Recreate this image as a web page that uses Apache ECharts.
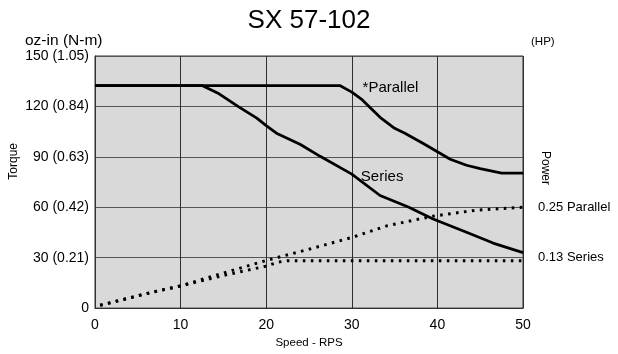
<!DOCTYPE html>
<html>
<head>
<meta charset="utf-8">
<script src="https://cdn.jsdelivr.net/npm/echarts@6/dist/echarts.min.js"></script>
<style>
  html, body { margin: 0; padding: 0; background: #ffffff; }
  #chart { width: 618px; height: 354px; }
</style>
</head>
<body>
<div id="chart"></div>
<script>
// Speed axis (RPS)
const speedTicks = [0, 10, 20, 30, 40, 50];

// Torque axis: oz-in values with the matching N-m equivalents
const torqueTicks = [0, 30, 60, 90, 120, 150];
const torqueNm = ['', '0.21', '0.42', '0.63', '0.84', '1.05'];

// Power axis labels (HP)
const powerTicks = [0.125, 0.25];
const powerLabels = ['0.13 Series', '0.25 Parallel'];

// Torque curves, [speed RPS, torque oz-in]
const parallelTorque = [
  [0, 132.4], [28.6, 132.4], [30, 128.5], [31.2, 124], [33.3, 113.5],
  [35, 107], [36.2, 104], [38.4, 97.8], [40, 93], [41.5, 88.6],
  [43.4, 85], [45, 83], [47.5, 80.3], [50, 80.3]
];
const seriesTorque = [
  [0, 132.4], [12.5, 132.4], [14.5, 127.5], [16.7, 120], [18.9, 113],
  [20, 108.6], [21.2, 104.1], [24, 97.3], [26.3, 90.3], [30, 79.7],
  [33.3, 67], [36.6, 60.2], [39.5, 53], [43.4, 45.1], [46.5, 38.7], [50, 33]
];

// Power curves, [speed RPS, power HP]
const parallelPower = [
  [0.6, 0.007], [6.8, 0.040], [10, 0.055], [15, 0.087], [20, 0.118],
  [25, 0.146], [30, 0.175], [34.1, 0.204], [39.5, 0.228], [44.6, 0.243], [50, 0.25]
];
const seriesPower = [
  [0.6, 0.007], [6.8, 0.040], [10, 0.055], [15, 0.081], [20, 0.104],
  [21.4, 0.114], [22.5, 0.1175], [50, 0.1175]
];

const FONT = 'Liberation Sans, Arial, Helvetica, sans-serif';
const chart = echarts.init(document.getElementById('chart'), null, { renderer: 'canvas' });

const solidLine = { color: '#000', width: 2.8, type: 'solid' };
const dottedLine = { color: '#000', width: 3, type: [2.6, 5.4], cap: 'butt' };

// In-plot curve caption anchored at a data coordinate
function caption(text, coord) {
  return {
    symbol: 'circle', symbolSize: 1, silent: true,
    itemStyle: { color: 'rgba(0,0,0,0)' },
    data: [{ coord: coord, value: text }],
    label: { show: true, position: 'right', distance: 0, formatter: text,
      fontFamily: FONT, fontSize: 15, color: '#000' }
  };
}

chart.setOption({
  animation: false,
  backgroundColor: '#ffffff',
  textStyle: { fontFamily: FONT, color: '#000' },
  title: [
    { text: 'SX 57-102', left: 'center', top: 3,
      textStyle: { fontFamily: FONT, fontSize: 26, fontWeight: 'normal', color: '#000' } },
    { text: 'oz-in (N-m)', left: 20, top: 28,
      textStyle: { fontFamily: FONT, fontSize: 15.5, fontWeight: 'normal', color: '#000' } },
    { text: '(HP)', left: 526, top: 31,
      textStyle: { fontFamily: FONT, fontSize: 11.5, fontWeight: 'normal', color: '#000' } }
  ],
  graphic: [
    { type: 'text', left: 8, top: 143, rotation: Math.PI / 2,
      style: { text: 'Torque', font: '12px ' + FONT, fill: '#000' } },
    { type: 'text', left: 539, top: 151, rotation: -Math.PI / 2,
      style: { text: 'Power', font: '12px ' + FONT, fill: '#000' } }
  ],
  grid: {
    left: 95, right: 95, top: 56, bottom: 42,
    show: true, backgroundColor: '#d9d9d9', borderColor: '#333', borderWidth: 1
  },
  xAxis: {
    type: 'value', min: speedTicks[0], max: speedTicks[speedTicks.length - 1], interval: 10,
    name: 'Speed - RPS', nameLocation: 'middle', nameGap: 27,
    nameTextStyle: { fontFamily: FONT, fontSize: 11.5, color: '#000' },
    axisLine: { show: true, lineStyle: { color: '#333', width: 1 } },
    axisTick: { show: false },
    axisLabel: { fontFamily: FONT, fontSize: 14, color: '#000', margin: 10 },
    splitLine: { show: true, lineStyle: { color: '#2e2e2e', width: 1 } }
  },
  yAxis: [
    {
      type: 'value', min: torqueTicks[0], max: torqueTicks[torqueTicks.length - 1], interval: 30,
      axisLine: { show: true, lineStyle: { color: '#333', width: 1 } },
      axisTick: { show: false },
      axisLabel: {
        fontFamily: FONT, fontSize: 14, color: '#000', margin: 6,
        formatter: function (v) {
          const i = torqueTicks.indexOf(v);
          return (i > 0 && torqueNm[i]) ? v + ' (' + torqueNm[i] + ')' : String(v);
        }
      },
      splitLine: { show: true, lineStyle: { color: '#555', width: 1 } }
    },
    {
      type: 'value', min: 0, max: 0.625, interval: 0.125, position: 'right',
      axisLine: { show: false }, axisTick: { show: false },
      axisLabel: {
        fontFamily: FONT, fontSize: 13, color: '#000', margin: 15,
        formatter: function (v) {
          const i = powerTicks.findIndex(function (t) { return Math.abs(t - v) < 1e-9; });
          return i >= 0 ? powerLabels[i] : '';
        }
      },
      splitLine: { show: false }
    }
  ],
  series: [
    {
      name: 'Parallel torque', type: 'line', data: parallelTorque, yAxisIndex: 0,
      showSymbol: false, lineStyle: solidLine, z: 5,
      markPoint: caption('*Parallel', [31.2, 131])
    },
    {
      name: 'Series torque', type: 'line', data: seriesTorque, yAxisIndex: 0,
      showSymbol: false, lineStyle: solidLine, z: 5,
      markPoint: caption('Series', [31, 78])
    },
    {
      name: 'Parallel power', type: 'line', data: parallelPower, yAxisIndex: 1,
      showSymbol: false, lineStyle: dottedLine, z: 4
    },
    {
      name: 'Series power', type: 'line', data: seriesPower, yAxisIndex: 1,
      showSymbol: false, lineStyle: dottedLine, z: 4
    }
  ]
});
</script>
</body>
</html>
